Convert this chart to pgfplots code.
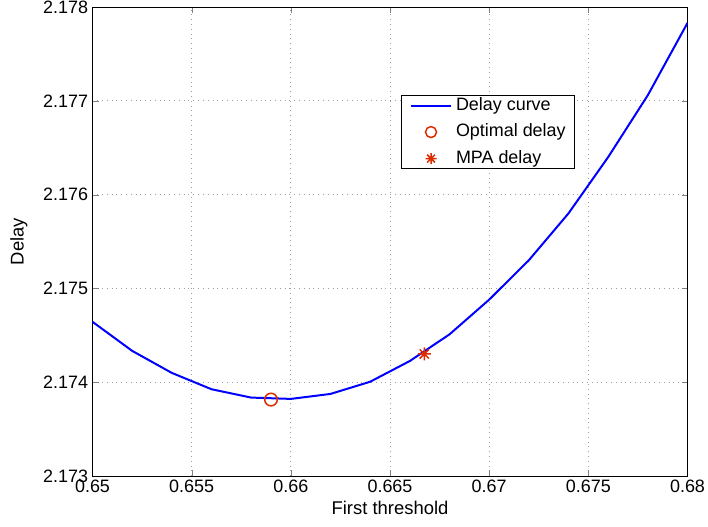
\documentclass[border=0pt]{standalone}
\usepackage{pgfplots}
\pgfplotsset{compat=1.18}
\usepackage{fontspec}
\setmainfont{Liberation Sans}
\definecolor{mred}{RGB}{220,45,0}
\pgfdeclareplotmark{mstar}{%
  \pgfpathmoveto{\pgfqpoint{-\pgfplotmarksize}{0pt}}\pgfpathlineto{\pgfqpoint{\pgfplotmarksize}{0pt}}%
  \pgfpathmoveto{\pgfqpoint{0pt}{-\pgfplotmarksize}}\pgfpathlineto{\pgfqpoint{0pt}{\pgfplotmarksize}}%
  \pgfpathmoveto{\pgfqpoint{-0.707\pgfplotmarksize}{-0.707\pgfplotmarksize}}\pgfpathlineto{\pgfqpoint{0.707\pgfplotmarksize}{0.707\pgfplotmarksize}}%
  \pgfpathmoveto{\pgfqpoint{-0.707\pgfplotmarksize}{0.707\pgfplotmarksize}}\pgfpathlineto{\pgfqpoint{0.707\pgfplotmarksize}{-0.707\pgfplotmarksize}}%
  \pgfusepathqstroke}
\pgfplotstableread{
x y
0.650 2.174644
0.652 2.174334
0.654 2.174099
0.656 2.173925
0.658 2.173836
0.660 2.173822
0.662 2.173875
0.664 2.174005
0.666 2.174226
0.668 2.174510
0.670 2.174880
0.672 2.175300
0.674 2.175800
0.676 2.176400
0.678 2.177060
0.680 2.177830
}\delaydata
\begin{document}
\begin{tikzpicture}
\begin{axis}[
  name=ax,
  scale only axis,
  width=595bp, height=469bp,
  xmin=0.65, xmax=0.68, ymin=2.173, ymax=2.178,
  xtick={0.65,0.655,...,0.6801},
  ytick={2.173,2.174,...,2.1781},
  xticklabels={0.65,0.655,0.66,0.665,0.67,0.675,0.68},
  yticklabels={2.173,2.174,2.175,2.176,2.177,2.178},
  /pgf/number format/assume math mode=true,
  tick label style={font=\fontsize{18}{20}\selectfont},
  label style={font=\fontsize{18.5}{20}\selectfont},
  xlabel={First threshold}, ylabel={Delay},
  xlabel style={at={(axis description cs:0.5,-0.053)}, anchor=north, inner sep=0pt},
  ylabel style={at={(axis description cs:-0.1387,0.5)}, anchor=north, inner sep=0pt},
  yticklabel style={xshift=-1bp},
  tick align=inside, major tick length=6bp,
  axis line style={line width=0.8bp},
  grid=major,
  major grid style={gray!75, line width=0.7bp, dash pattern=on 0.8bp off 4bp},
  legend style={at={(0.811,0.812)}, anchor=north east, draw=black, line width=0.8bp,
    font=\fontsize{18}{20}\selectfont, row sep=9.5bp, column sep=4bp,
    inner xsep=9bp, inner ysep=1.5bp,
    nodes={inner sep=0pt, text height=13bp, text depth=4bp}},
  legend cell align=left,
]
\addplot[blue, line width=2bp,
  legend image code/.code={\draw[blue, line width=2bp] (0bp,0bp) -- (40bp,0bp);}]
  table[x=x,y=y]{\delaydata};
\addlegendentry{Delay curve}
\addplot[only marks, mark=o, mark size=6.3bp, mred, line width=1.5bp,
  legend image code/.code={\draw[white, line width=0pt] (0bp,0bp) -- (40bp,0bp); \draw[mred, line width=1.5bp] (20bp,0bp) circle (5.5bp);}]
  coordinates {(0.6590,2.173815)};
\addlegendentry{Optimal delay}
\addplot[only marks, mark=mstar, mark size=6.5bp, mred, line width=1.5bp,
  legend image code/.code={\draw[white, line width=0pt] (0bp,0bp) -- (40bp,0bp); \draw[mred, line width=1.5bp] plot[mark=mstar, mark size=5.5bp] coordinates {(20bp,0bp)};}]
  coordinates {(0.66673,2.174301)};
\addlegendentry{MPA delay}
\end{axis}
\pgfresetboundingbox
\path ([shift={(-92.5bp,-51bp)}]ax.south west) rectangle ([shift={(20.5bp,7bp)}]ax.north east);
\end{tikzpicture}
\end{document}
